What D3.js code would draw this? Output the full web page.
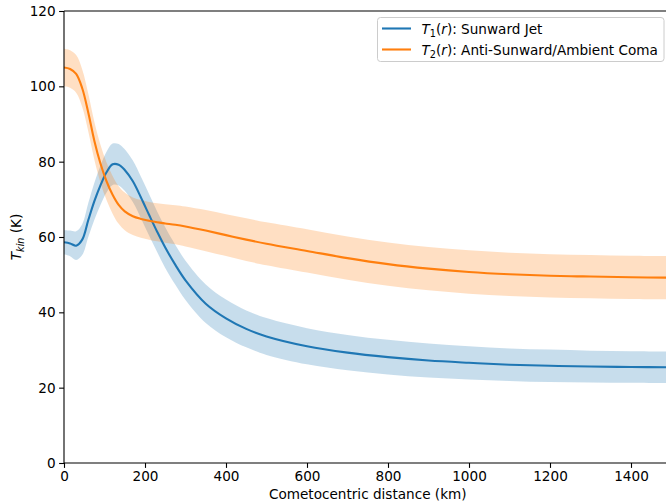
<!DOCTYPE html>
<html>
<head>
<meta charset="utf-8">
<script src="https://cdn.jsdelivr.net/npm/d3@7"></script>
<style>
  body { margin: 0; background: #fff; }
  svg { display: block; font-family: "DejaVu Sans", sans-serif; }
</style>
</head>
<body>
<svg id="chart" width="666" height="501"></svg>
<script>
// Data
const distanceKm = [0, 15, 30, 45, 60, 75, 90, 105, 120, 135, 150, 170, 190, 210, 230, 250, 275, 300, 350, 400, 450, 500, 600, 700, 800, 900, 1000, 1100, 1200, 1300, 1400, 1500];
const T1 = [58.6, 58.3, 57.7, 59.3, 64.5, 69.5, 73.7, 77.2, 79.3, 79.2, 77.8, 74.8, 70.5, 65.9, 61.4, 57.2, 52.6, 48.5, 42.3, 38.4, 35.6, 33.6, 31.0, 29.3, 28.1, 27.2, 26.6, 26.1, 25.8, 25.6, 25.5, 25.4];
const T1err = [3.2, 3.4, 3.8, 4.1, 4.5, 4.9, 5.2, 5.4, 5.5, 5.5, 5.5, 5.5, 5.5, 5.5, 5.4, 5.4, 5.3, 5.2, 5.1, 5.0, 4.9, 4.9, 4.8, 4.7, 4.6, 4.5, 4.4, 4.3, 4.3, 4.2, 4.2, 4.2];
const T2 = [105, 104.6, 103.3, 99.5, 93, 85.5, 79.5, 74.8, 71.2, 68.5, 66.8, 65.5, 64.8, 64.3, 63.9, 63.6, 63.25, 62.8, 61.7, 60.5, 59.3, 58.2, 56.3, 54.4, 52.8, 51.6, 50.7, 50.1, 49.7, 49.5, 49.3, 49.2];
const T2err = [5, 5, 5, 5, 5, 5, 5, 5, 5, 5, 5, 5, 5, 5, 5.05, 5.1, 5.2, 5.3, 5.45, 5.55, 5.65, 5.7, 5.75, 5.75, 5.75, 5.75, 5.75, 5.75, 5.75, 5.75, 5.75, 5.75];
const xTicks = [0, 200, 400, 600, 800, 1000, 1200, 1400];
const yTicks = [0, 20, 40, 60, 80, 100, 120];
const seriesNames = ["Sunward Jet", "Anti-Sunward/Ambient Coma"];
const seriesSub = ["1", "2"];
const colors = ["#1f77b4", "#ff7f0e"];

const svg = d3.select("#chart");
const mLeft = 64, mTop = 11, mBottom = 463, mRight = 671.5;
const fs = "13.6px";

const x = d3.scaleLinear().domain([0, 1500]).range([mLeft, mRight]);
const y = d3.scaleLinear().domain([0, 120]).range([mBottom, mTop]);

svg.append("defs").append("clipPath").attr("id", "plotclip")
  .append("rect").attr("x", mLeft).attr("y", mTop).attr("width", mRight - mLeft).attr("height", mBottom - mTop);

const plot = svg.append("g").attr("clip-path", "url(#plotclip)");

const series = [
  { vals: T1, err: T1err },
  { vals: T2, err: T2err }
];

const curve = d3.curveCatmullRom.alpha(0.5);
series.forEach((s, i) => {
  const pts = distanceKm.map((r, j) => ({ r, v: s.vals[j], e: s.err[j] }));
  const area = d3.area().x(d => x(d.r)).y0(d => y(d.v - d.e)).y1(d => y(d.v + d.e)).curve(curve);
  plot.append("path").datum(pts).attr("d", area)
    .attr("fill", colors[i]).attr("fill-opacity", 0.25).attr("stroke", "none");
});
series.forEach((s, i) => {
  const pts = distanceKm.map((r, j) => ({ r, v: s.vals[j] }));
  const line = d3.line().x(d => x(d.r)).y(d => y(d.v)).curve(curve);
  plot.append("path").datum(pts).attr("d", line)
    .attr("fill", "none").attr("stroke", colors[i]).attr("stroke-width", 2.1);
});

// Axes
const xAxis = d3.axisBottom(x).tickValues(xTicks).tickSize(4.9).tickPadding(3.5).tickFormat(d3.format("d"));
const yAxis = d3.axisLeft(y).tickValues(yTicks).tickSize(4.9).tickPadding(3.5).tickFormat(d3.format("d"));

const gx = svg.append("g").attr("transform", `translate(0,${mBottom})`).call(xAxis);
const gy = svg.append("g").attr("transform", `translate(${mLeft},0)`).call(yAxis);
[gx, gy].forEach(g => {
  g.select(".domain").remove();
  g.selectAll(".tick line").attr("stroke", "#000").attr("stroke-width", 1.1);
  g.selectAll(".tick text").attr("fill", "#000").style("font-size", fs).style("font-family", "DejaVu Sans, sans-serif");
});

// Spines
svg.append("line").attr("x1", mLeft).attr("x2", mLeft).attr("y1", mTop).attr("y2", mBottom).attr("stroke", "#000").attr("stroke-width", 1.1);
svg.append("line").attr("x1", mLeft).attr("x2", mRight).attr("y1", mBottom).attr("y2", mBottom).attr("stroke", "#000").attr("stroke-width", 1.1);
svg.append("line").attr("x1", mLeft).attr("x2", mRight).attr("y1", mTop).attr("y2", mTop).attr("stroke", "#000").attr("stroke-width", 1.1);
svg.append("line").attr("x1", mRight).attr("x2", mRight).attr("y1", mTop).attr("y2", mBottom).attr("stroke", "#000").attr("stroke-width", 1.1);

// Axis labels
svg.append("text").attr("x", (mLeft + mRight) / 2).attr("y", 498.5).attr("text-anchor", "middle")
  .style("font-size", fs).attr("fill", "#000").text("Cometocentric distance (km)");

const yl = svg.append("text").attr("transform", `translate(21,${(mTop + mBottom) / 2}) rotate(-90)`)
  .attr("text-anchor", "middle").style("font-size", fs).attr("fill", "#000");
yl.append("tspan").style("font-style", "italic").text("T");
yl.append("tspan").attr("dy", 3).style("font-size", "9.7px").style("font-style", "italic").text("kin");
yl.append("tspan").attr("dy", -3).text(" (K)");

// Legend
const lg = svg.append("g");
lg.append("rect").attr("x", 377.5).attr("y", 17.5).attr("width", 286.5).attr("height", 44).attr("rx", 3)
  .attr("fill", "#fff").attr("fill-opacity", 0.8).attr("stroke", "#cccccc").attr("stroke-width", 1);
seriesNames.forEach((name, i) => {
  const yy = 28.5 + i * 21;
  lg.append("line").attr("x1", 382).attr("x2", 411).attr("y1", yy).attr("y2", yy)
    .attr("stroke", colors[i]).attr("stroke-width", 2.1);
  const t = lg.append("text").attr("x", 421.5).attr("y", yy + 5).style("font-size", fs).attr("fill", "#000");
  t.append("tspan").style("font-style", "italic").text("T");
  t.append("tspan").attr("dy", 3).style("font-size", "9.7px").text(seriesSub[i]);
  t.append("tspan").attr("dy", -3).text("(");
  t.append("tspan").style("font-style", "italic").text("r");
  t.append("tspan").text("): " + name);
});
</script>
</body>
</html>
